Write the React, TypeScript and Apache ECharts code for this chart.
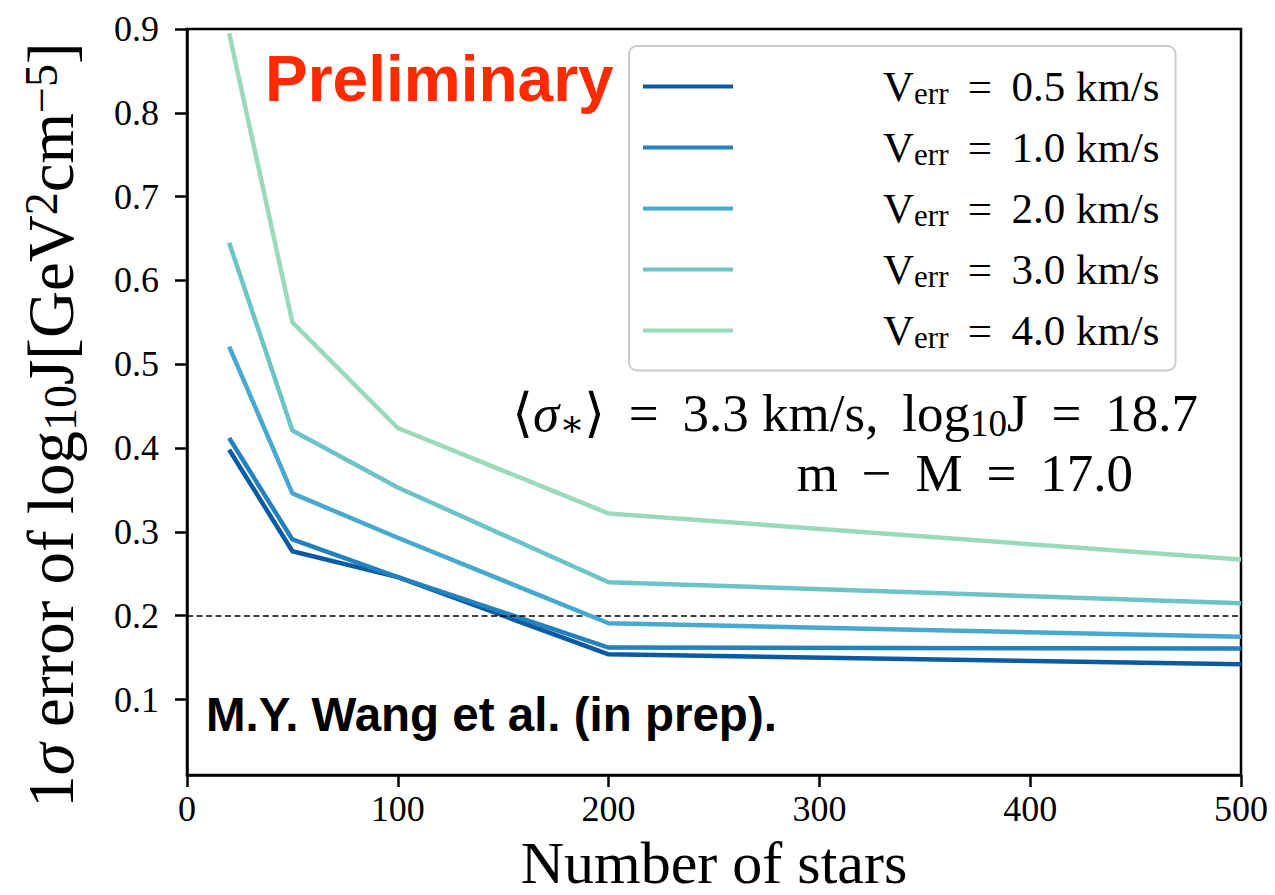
import React, { useEffect, useRef } from "react";
import * as echarts from "echarts";

// Number of member stars sampled
const starCounts = [20, 50, 100, 200, 500];

// Velocity-error cases (km/s) and the 1-sigma error of log10 J for each
const verrLabels = ["0.5", "1.0", "2.0", "3.0", "4.0"];
const err05 = [0.398, 0.277, 0.246, 0.154, 0.142];
const err10 = [0.412, 0.291, 0.246, 0.162, 0.161];
const err20 = [0.521, 0.346, 0.293, 0.191, 0.175];
const err30 = [0.645, 0.421, 0.353, 0.240, 0.215];
const err40 = [0.895, 0.550, 0.424, 0.322, 0.267];
const errSeries = [err05, err10, err20, err30, err40];

const lineColors = ["#0b5aa2", "#2381bd", "#48a9cf", "#6dc4c6", "#9ad9bb"];

const yTicks = [0.1, 0.2, 0.3, 0.4, 0.5, 0.6, 0.7, 0.8, 0.9];
const xTicks = [0, 100, 200, 300, 400, 500];
const threshold = 0.2;

const SERIF = "'Liberation Serif', 'DejaVu Serif', serif";
const SANS = "'Liberation Sans', Arial, sans-serif";
const SP = " \u2009"; // space plus thin space, for math-style spacing around relations

export default function App() {
  const ref = useRef<HTMLDivElement>(null);

  useEffect(() => {
    document.body.style.margin = "0";
    if (!ref.current) return;
    const chart = echarts.init(ref.current, null, { renderer: "svg" });

    const series = errSeries.map((vals, i) => ({
      name: verrLabels[i],
      type: "line",
      data: starCounts.map((n, j) => [n, vals[j]]),
      showSymbol: false,
      symbol: "none",
      lineStyle: { color: lineColors[i], width: 4.5 },
      itemStyle: { color: lineColors[i] },
      z: 3 + i,
      ...(i === 0
        ? {
            markLine: {
              silent: true,
              symbol: "none",
              label: { show: false },
              lineStyle: { color: "#000", type: [6, 3.5], width: 1.6 },
              data: [{ yAxis: threshold }],
            },
          }
        : {}),
    }));

    const legendFont = 43;
    const option: any = {
      animation: false,
      backgroundColor: "#fff",
      grid: {
        left: 187,
        top: 29,
        width: 1054,
        height: 746,
        show: true,
        borderColor: "#000",
        borderWidth: 2.5,
        outerBoundsMode: "none",
      },
      xAxis: {
        type: "value",
        min: 0,
        max: 500,
        interval: 100,
        name: "Number of stars",
        nameLocation: "middle",
        nameGap: 64,
        nameMoveOverlap: false,
        nameTextStyle: {
          fontFamily: SERIF,
          fontSize: 60,
          lineHeight: 48,
          color: "#000",
        },
        axisLine: { show: true, lineStyle: { color: "#000", width: 2.5 } },
        axisTick: {
          show: true,
          length: 12,
          lineStyle: { color: "#000", width: 2.5 },
          customValues: xTicks,
        },
        axisLabel: {
          fontFamily: SERIF,
          fontSize: 36,
          color: "#000",
          margin: 16,
          customValues: xTicks,
        },
        splitLine: { show: false },
      },
      yAxis: {
        type: "value",
        min: 0.01,
        max: 0.9,
        name:
          "{a|1}{i|σ}{a| error of log}{sub|10}{a|J[GeV}{sup|2}{a|cm}{sup|−5}{a|]}",
        nameLocation: "middle",
        nameRotate: 90,
        nameGap: 104,
        nameTextStyle: {
          color: "#000",
          padding: [0, 46, 0, 0],
          rich: {
            a: { fontFamily: SERIF, fontSize: 65, lineHeight: 65, color: "#000" },
            i: {
              fontFamily: SERIF,
              fontSize: 65,
              lineHeight: 65,
              fontStyle: "italic",
              color: "#000",
            },
            sub: {
              fontFamily: SERIF,
              fontSize: 46,
              lineHeight: 46,
              verticalAlign: "bottom",
              padding: [10, 0, 0, 0],
              color: "#000",
            },
            sup: {
              fontFamily: SERIF,
              fontSize: 46,
              lineHeight: 46,
              verticalAlign: "top",
              padding: [0, 0, 8, 0],
              color: "#000",
            },
          },
        },
        axisLine: { show: true, lineStyle: { color: "#000", width: 2.5 } },
        axisTick: {
          show: true,
          length: 12,
          lineStyle: { color: "#000", width: 2.5 },
          customValues: yTicks,
        },
        axisLabel: {
          fontFamily: SERIF,
          fontSize: 36,
          color: "#000",
          margin: 28,
          customValues: yTicks,
          formatter: (v: number) => v.toFixed(1),
        },
        splitLine: { show: false },
      },
      legend: {
        orient: "vertical",
        left: 629,
        top: 46,
        padding: [19, 16, 18, 14],
        backgroundColor: "#fff",
        borderColor: "#cccccc",
        borderWidth: 2,
        borderRadius: 8,
        icon: "rect",
        itemWidth: 90,
        itemHeight: 4,
        itemGap: 17.5,
        data: verrLabels,
        formatter: (name: string) =>
          `{gap|}{v|V}{sub|err}{t|${SP}=${SP}${name} km/s}`,
        textStyle: {
          color: "#000",
          rich: {
            gap: { width: 145, lineHeight: 44 },
            v: { fontFamily: SERIF, fontSize: legendFont, lineHeight: 44, color: "#000" },
            sub: {
              fontFamily: SERIF,
              fontSize: 31,
              lineHeight: 31,
              verticalAlign: "bottom",
              padding: [8, 0, 0, 0],
              color: "#000",
            },
            t: { fontFamily: SERIF, fontSize: legendFont, lineHeight: 44, color: "#000" },
          },
        },
      },
      graphic: [
        {
          type: "text",
          left: 265,
          top: 47,
          z: 20,
          style: {
            text: "Preliminary",
            fontFamily: SANS,
            fontWeight: "bold",
            fontSize: 64,
            fill: "#ff2a00",
          },
        },
        {
          type: "text",
          left: 206,
          top: 690,
          z: 20,
          style: {
            text: "M.Y. Wang et al. (in prep).",
            fontFamily: SANS,
            fontWeight: "bold",
            fontSize: 47.5,
            fill: "#000",
          },
        },
        {
          type: "text",
          right: 77,
          top: 386,
          z: 20,
          style: {
            text: `{a|⟨}{i|σ}{sub|∗}{a|⟩${SP}=${SP}3.3 km/s,${SP}log}{sub|10}{a|J${SP}=${SP}18.7}`,
            rich: {
              a: { fontFamily: SERIF, fontSize: 53, lineHeight: 58, fill: "#000" },
              i: {
                fontFamily: SERIF,
                fontSize: 53,
                lineHeight: 58,
                fontStyle: "italic",
                fill: "#000",
              },
              sub: {
                fontFamily: SERIF,
                fontSize: 37,
                lineHeight: 37,
                verticalAlign: "bottom",
                padding: [8, 0, 0, 0],
                fill: "#000",
              },
            },
          },
        },
        {
          type: "text",
          right: 142,
          top: 444,
          z: 20,
          style: {
            text: `m${SP}−${SP}M${SP}=${SP}17.0`,
            fontFamily: SERIF,
            fontSize: 53,
            lineHeight: 58,
            fill: "#000",
          },
        },
      ],
      series,
    };

    chart.setOption(option);
    return () => chart.dispose();
  }, []);

  return <div ref={ref} style={{ width: 1275, height: 895 }} />;
}
